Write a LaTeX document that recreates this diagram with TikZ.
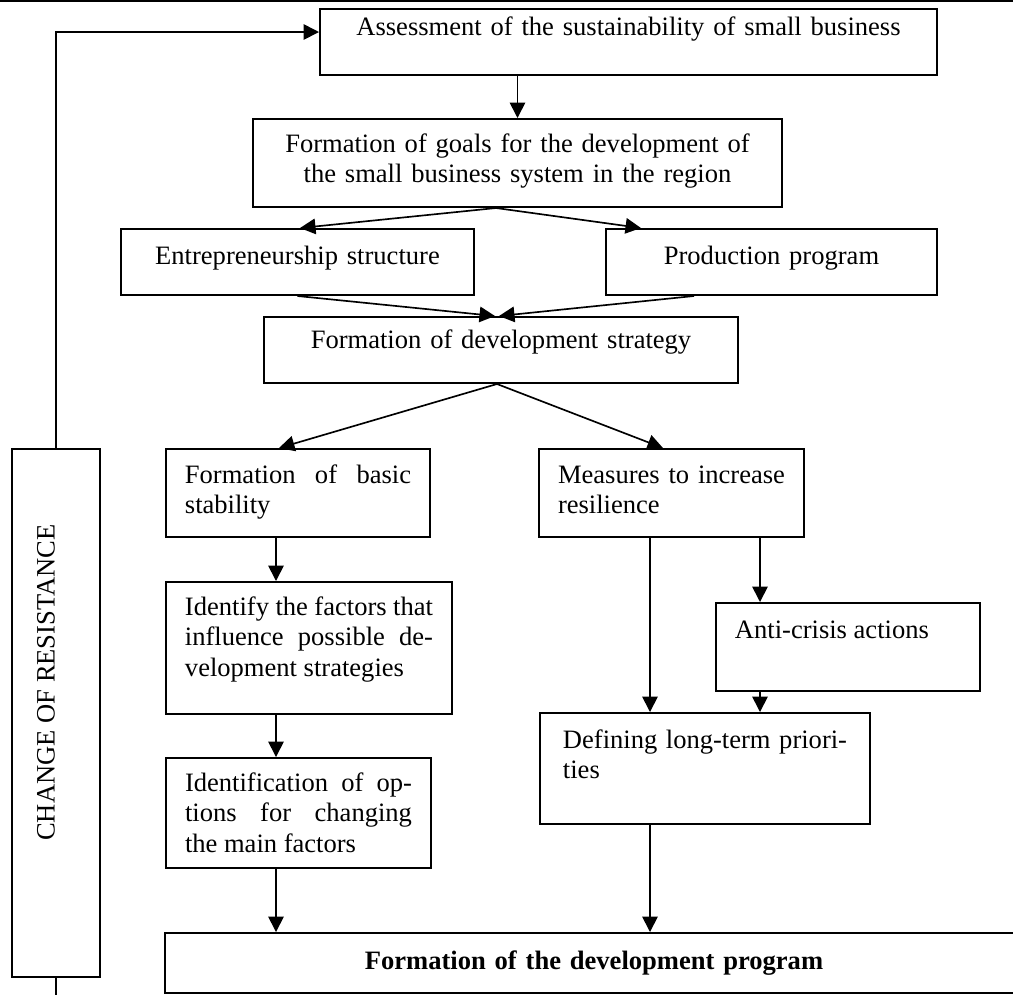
\documentclass[tikz,border=0pt]{standalone}
\usepackage{fontspec}
\setmainfont{Liberation Serif}
\usetikzlibrary{arrows.meta}
\tolerance=10000
\hbadness=10000
\tikzstyle{box} = [rectangle, draw=black, line width=0.9pt, inner xsep=8.59pt, inner ysep=0pt, font=\fontsize{12}{13.8}\selectfont]
\tikzstyle{stage} = [box, align=center]
\tikzstyle{action} = [box, align=justify]
\tikzstyle{arrow} = [line width=0.75pt,->,>={Triangle[length=7pt,width=7pt]}]
\tikzstyle{link} = [line width=0.75pt]

\begin{document}
\begin{tikzpicture}[x=0.452pt, y=-0.452pt]

\useasboundingbox (0,0) rectangle (1013,994);

\draw [line width=1pt] (0,1) -- (1013,1);

\node (assess) [stage, text width=261.7pt, text height=11.75pt, text depth=18.08pt] at (628.5,42) {Assessment of the sustainability of small business};

\node (goals) [stage, text width=221.9pt, text height=14.92pt, text depth=24.86pt] at (517.5,163) {Formation of goals for the development of\\the small business system in the region};

\node (entre) [stage, text width=142.4pt, text height=15.82pt, text depth=14.01pt] at (297.5,262) {Entrepreneurship structure};
\node (prod) [stage, text width=132.4pt, text height=15.82pt, text depth=14.01pt] at (771.5,262) {Production program};

\node (strat) [stage, text width=197.1pt, text height=14.01pt, text depth=15.82pt] at (501,350) {Formation of development strategy};

\node (basic) [action, text width=102.2pt, text height=15.37pt, text depth=24.41pt] at (298,493) {Formation of basic\linebreak stability};
\node (meas) [action, text width=102.6pt, text height=15.37pt, text depth=24.41pt] at (671.5,493) {Measures to increase\linebreak resilience};

\node (ident) [action, text width=112.1pt, text height=14.92pt, text depth=44.75pt] at (309,648) {Identify the factors that\linebreak influence possible de-\linebreak velopment strategies};
\node (anti) [action, text width=102.2pt, text height=15.82pt, text depth=23.96pt] at (848,647) {Anti-crisis actions};

\node (opts) [action, text width=102.6pt, text height=14.92pt, text depth=34.8pt] at (298.5,813) {Identification of op-\linebreak tions for changing\linebreak the main factors};
\node (prio) [action, text width=128.4pt, minimum width=149.2pt, text height=15.82pt, text depth=34.35pt] at (705,768.5) {Defining long-term priori-\linebreak ties};

\node (prog) [stage, font=\fontsize{12}{13.8}\selectfont\bfseries, text width=370.6pt, text height=16.27pt, text depth=10.85pt] at (594,963) {Formation of the development program};

\node (resist) [box, minimum width=39.78pt, minimum height=238.7pt] at (56,713) {};
\node (resisttext) [rotate=90, inner sep=0pt, font=\fontsize{12}{13.8}\selectfont] at (46,682.5) {CHANGE OF RESISTANCE};


\draw [arrow] (goals.north |- assess.south) -- (goals.north);

\draw [arrow] (496,0 |- goals.south) -- (300,0 |- entre.north);
\draw [arrow] (496,0 |- goals.south) -- (641,0 |- prod.north);

\draw [arrow] (entre.south) -- (495,0 |- strat.north);
\draw [arrow] (694,0 |- prod.south) -- (499,0 |- strat.north);

\draw [arrow] (497,0 |- strat.south) -- (279,0 |- basic.north);
\draw [arrow] (497,0 |- strat.south) -- (663,0 |- meas.north);

\draw [arrow] (276,0 |- basic.south) -- (276,0 |- ident.north);
\draw [arrow] (276,0 |- ident.south) -- (276,0 |- opts.north);
\draw [arrow] (276,0 |- opts.south) -- (276,0 |- prog.north);

\draw [arrow] (650,0 |- meas.south) -- (650,0 |- prio.north);
\draw [arrow] (760,0 |- meas.south) -- (760,0 |- anti.north);
\draw [arrow] (760,0 |- anti.south) -- (760,0 |- prio.north);
\draw [arrow] (650,0 |- prio.south) -- (650,0 |- prog.north);

\draw [arrow] (resist.north) |- (assess.west |- 0,32);
\draw [link] (resist.south) -- ++(0,20);



\end{tikzpicture}
\end{document}
